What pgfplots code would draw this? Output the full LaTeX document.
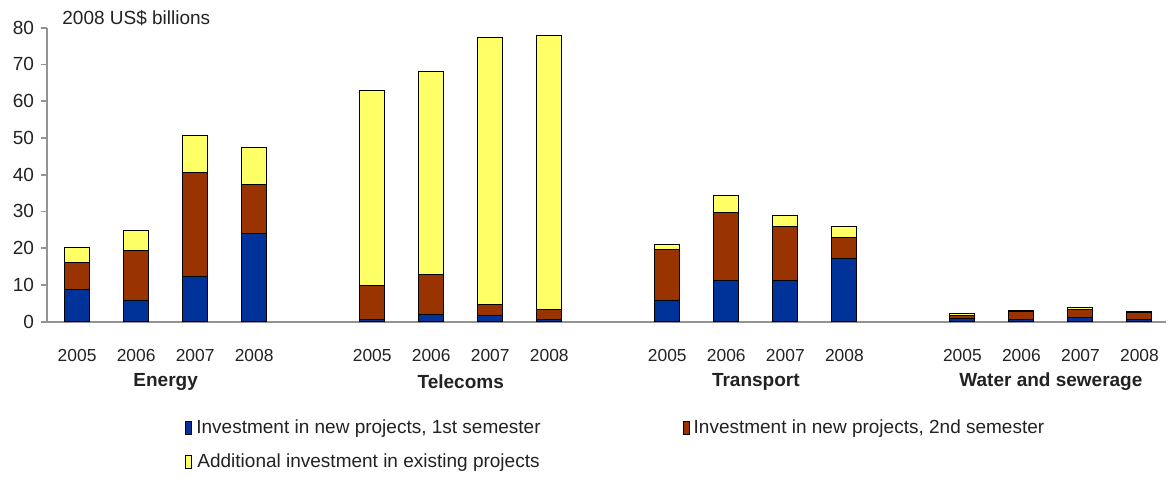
\documentclass[border=0pt]{standalone}
\usepackage{fontspec}
\setmainfont{Liberation Sans}
\usepackage{pgfplots}
\pgfplotsset{compat=1.18}
\definecolor{cblue}{HTML}{003399}
\definecolor{cbrown}{HTML}{993300}
\definecolor{cyellow}{HTML}{FFFF66}
\definecolor{ctext}{HTML}{222222}
\begin{document}
\begin{tikzpicture}
\begin{axis}[
 scale only axis, width=559.5pt, height=147pt,
 ybar stacked, bar width=12.5pt,
 xmin=-0.51, xmax=18.45, ymin=0, ymax=80,
 axis x line*=bottom, axis y line*=left,
 axis line style={draw=gray!85, line width=1pt, -},
 ytick={0,10,...,80},
 y tick style={draw=gray!85, line width=0.8pt},
 tick align=outside, major tick length=3pt,
 xtick={0,1,2,3,5,6,7,8,10,11,12,13,15,16,17,18},
 xticklabels={2005,2006,2007,2008,2005,2006,2007,2008,2005,2006,2007,2008,2005,2006,2007,2008},
 x tick style={draw=none},
 xticklabel style={font=\fontsize{8.7}{10}\selectfont, yshift=-7.5pt, text=ctext},
 yticklabel style={font=\fontsize{9.5}{11}\selectfont, text=ctext},
 /pgf/number format/assume math mode=true,
 clip=false,
 legend columns=2,
 legend style={draw=none, at={(rel axis cs:0,0)}, anchor=north west, xshift=66pt, yshift=-45pt,
   font=\fontsize{9.5}{11}\selectfont, text=ctext,
   /tikz/every even column/.append style={column sep=69pt}, row sep=4.3pt},
 legend image code/.code={\draw[#1] (0pt,-3.25pt) rectangle (3pt,3.25pt);},
 every axis plot/.append style={draw=black, line width=0.5pt},
]
\addplot[fill=cblue] coordinates {(0,8.8)(1,5.7)(2,12.2)(3,24.0)(5,0.7)(6,2.0)(7,1.6)(8,0.6)(10,5.7)(11,11.2)(12,11.2)(13,17.2)(15,0.8)(16,0.5)(17,1.2)(18,0.7)};
\addplot[fill=cbrown] coordinates {(0,7.4)(1,13.6)(2,28.4)(3,13.2)(5,9.1)(6,10.9)(7,3.1)(8,2.8)(10,14.0)(11,18.6)(12,14.6)(13,5.8)(15,1.0)(16,2.2)(17,2.2)(18,1.9)};
\addplot[fill=cyellow] coordinates {(0,4.0)(1,5.5)(2,10.2)(3,10.3)(5,53.0)(6,55.3)(7,72.6)(8,74.6)(10,1.3)(11,4.5)(12,3.0)(13,2.9)(15,0.5)(16,0.4)(17,0.4)(18,0.2)};
\legend{Investment in new projects{,} 1st semester, Investment in new projects{,} 2nd semester, Additional investment in existing projects}
\coordinate (O) at (rel axis cs:0,0);
\node[font=\bfseries\fontsize{9.5}{11}\selectfont, text=ctext] at (axis cs:1.5,0) [yshift=-30pt] {Energy};
\node[font=\bfseries\fontsize{9.5}{11}\selectfont, text=ctext] at (axis cs:6.5,0) [yshift=-30pt] {Telecoms};
\node[font=\bfseries\fontsize{9.5}{11}\selectfont, text=ctext] at (axis cs:11.5,0) [yshift=-30pt] {Transport};
\node[font=\bfseries\fontsize{9.5}{11}\selectfont, text=ctext] at (axis cs:16.5,0) [yshift=-30pt] {Water and sewerage};
\node[anchor=west, font=\fontsize{9.5}{11}\selectfont, inner sep=0pt, text=ctext] at (rel axis cs:0,1) [xshift=7.5pt, yshift=5pt] {2008 US\$ billions};
\end{axis}
\pgfresetboundingbox
\path ([shift={(-23.5pt,-77.15pt)}]O) rectangle ([shift={(564.5pt,160.85pt)}]O);
\end{tikzpicture}
\end{document}
